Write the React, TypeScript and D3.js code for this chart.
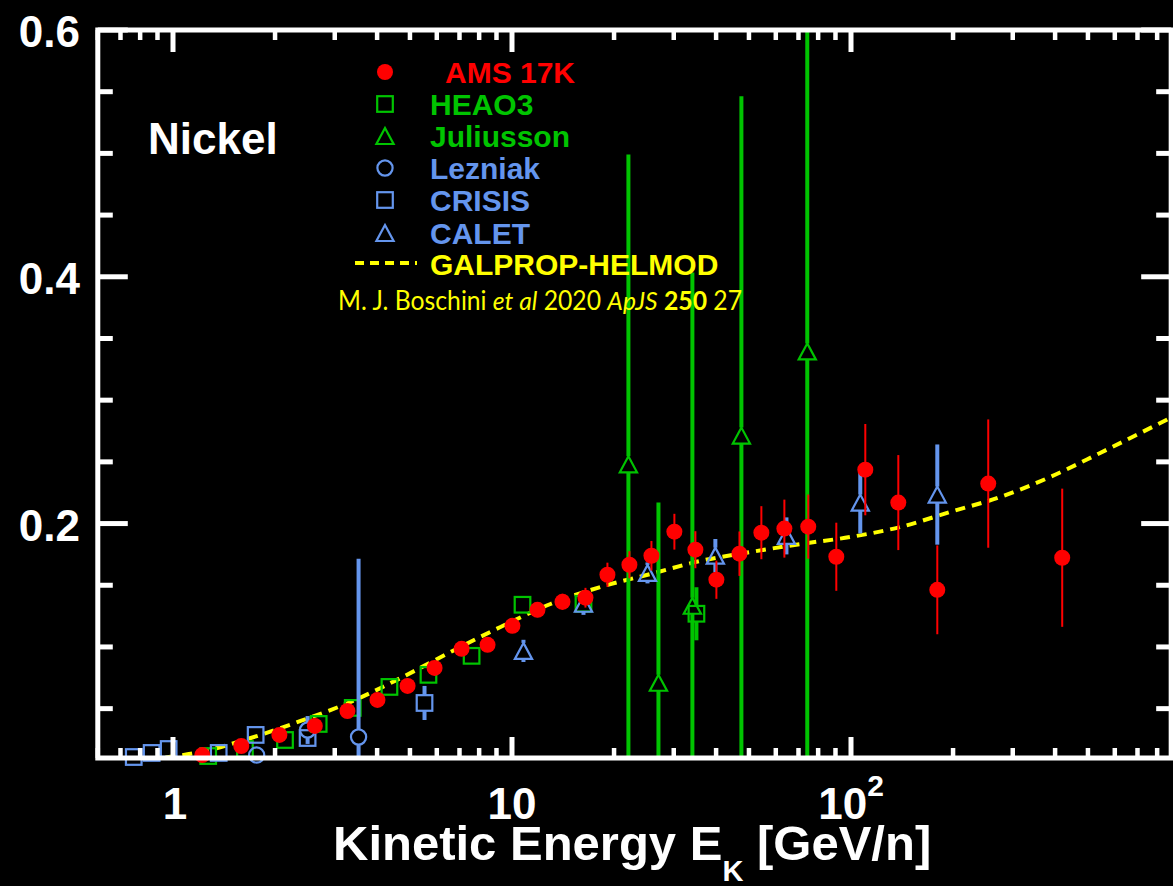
import React, { useEffect } from 'react';
import * as d3 from 'd3';

// ---------------- data ----------------
const amsE = [1.22, 1.59, 2.06, 2.62, 3.27, 4.01, 4.92, 5.91, 7.1, 8.47, 10.03, 11.89, 14.09, 16.47, 19.12, 22.2, 25.78, 30.13, 34.75, 40.08, 46.88, 54.4, 63.6, 74.8, 90.5, 110.2, 137.9, 179.7, 254, 419.8];
const amsF = [0.0124, 0.0197, 0.0287, 0.036, 0.0481, 0.0571, 0.0684, 0.083, 0.0985, 0.1017, 0.1171, 0.1301, 0.1366, 0.1399, 0.1585, 0.1666, 0.1739, 0.1934, 0.1788, 0.1545, 0.1756, 0.1926, 0.1959, 0.1975, 0.1731, 0.2437, 0.217, 0.1463, 0.2324, 0.1723];
const amsErr = [0.001, 0.0012, 0.0015, 0.0018, 0.002, 0.0025, 0.003, 0.0035, 0.004, 0.0045, 0.005, 0.006, 0.0065, 0.008, 0.0098, 0.011, 0.012, 0.0145, 0.015, 0.0155, 0.018, 0.0215, 0.0235, 0.026, 0.0276, 0.037, 0.0385, 0.036, 0.052, 0.056];

const heaoE = [1.27, 1.63, 2.14, 2.69, 3.39, 4.35, 5.67, 7.6, 10.74, 16.25, 35.0];
const heaoF = [0.0116, 0.0173, 0.0246, 0.0376, 0.0506, 0.0676, 0.0774, 0.0928, 0.1342, 0.135, 0.1269];
const heaoErr = [0.0008, 0.001, 0.0012, 0.0015, 0.0018, 0.002, 0.0025, 0.003, 0.004, 0.004, 0.0215];

const julE = [22.05, 27.04, 34.05, 47.5, 74.3];
const julF = [0.248, 0.071, 0.1334, 0.2713, 0.3395];
const julErr = [0.251, 0.146, 0.27, 0.275, 0.33];

const lezE = [1.765, 2.495, 3.527];
const lezF = [0.0124, 0.0327, 0.027];
const lezErr = [0.001, 0.0113, 0.1445];

const crisE = [0.766, 0.865, 0.971, 1.364, 1.753, 2.495, 5.52];
const crisF = [0.0108, 0.0141, 0.0173, 0.0141, 0.0287, 0.0262, 0.0546];
const crisErr = [0.0005, 0.0005, 0.0008, 0.0008, 0.001, 0.0065, 0.0138];

const caletE = [10.81, 16.25, 25.1, 39.8, 64.5, 106.5, 179.7];
const caletF = [0.0968, 0.135, 0.16, 0.174, 0.19, 0.217, 0.2235];
const caletErr = [0.009, 0.009, 0.0085, 0.0135, 0.015, 0.025, 0.0406];

const modelE = [0.95, 1.207, 1.695, 2.379, 3.341, 4.692, 6.588, 9.25, 12.99, 18.24, 25.61, 35.96, 50.49, 70.89, 99.5, 139.8, 196.2, 275.5, 386.8, 543.1, 873.7];
const modelF = [0.0105, 0.0149, 0.0262, 0.04, 0.0554, 0.0748, 0.0959, 0.1162, 0.1348, 0.1486, 0.1591, 0.1697, 0.1769, 0.1834, 0.1891, 0.1972, 0.2094, 0.2215, 0.2377, 0.2572, 0.2855];

const xMajorTicks = [1, 10, 100];
const yMajorTicks = [0.2, 0.4, 0.6];
const yMinorTicks = [0.05, 0.1, 0.15, 0.25, 0.3, 0.35, 0.45, 0.5, 0.55];
const legendLabels = ['AMS 17K', 'HEAO3', 'Juliusson', 'Lezniak', 'CRISIS', 'CALET', 'GALPROP-HELMOD'];

const RED = '#ff0000';
const GREEN = '#00c400';
const BLUE = '#6495ed';
const YELLOW = '#ffff00';
const FONT = '"Liberation Sans", Arial, Helvetica, sans-serif';

type Shape = 'circleFill' | 'square' | 'triangle' | 'circle';

function Marker({ cx, cy, shape, color }: { cx: number; cy: number; shape: Shape; color: string }) {
  if (shape === 'circleFill') return <circle cx={cx} cy={cy} r={8} fill={color} />;
  if (shape === 'circle') return <circle cx={cx} cy={cy} r={7.6} fill="none" stroke={color} strokeWidth={2.2} />;
  if (shape === 'square')
    return <rect x={cx - 7.8} y={cy - 7.8} width={15.6} height={15.6} fill="none" stroke={color} strokeWidth={2.2} />;
  const h = 8, w = 8.6;
  return (
    <path
      d={`M${cx},${cy - h}L${cx - w},${cy + h}L${cx + w},${cy + h}Z`}
      fill="none"
      stroke={color}
      strokeWidth={2.2}
      strokeLinejoin="miter"
    />
  );
}

export default function App() {
  useEffect(() => {
    document.body.style.margin = '0';
    document.body.style.background = '#000';
  }, []);

  const W = 1173, H = 886;
  const x0 = 173 + 339 * Math.log10(0.6);
  const x1 = 173 + 339 * Math.log10(880);
  const x = d3.scaleLog().domain([0.6, 880]).range([x0, x1]);
  const y = d3.scaleLinear().domain([0.01, 0.6]).range([758, 30]);
  const yTop = y(0.6), yBot = y(0.01);

  const xMinor: number[] = [];
  [0.1, 1, 10, 100].forEach((dec) => {
    for (let k = 2; k <= 9; k++) {
      const v = dec * k;
      if (v > 0.6 && v < 880) xMinor.push(v);
    }
  });

  const clampY = (v: number) => Math.max(0.01, Math.min(0.6, v));

  const series = [
    { E: heaoE, F: heaoF, err: heaoErr, shape: 'square' as Shape, color: GREEN, bw: 4 },
    { E: julE, F: julF, err: julErr, shape: 'triangle' as Shape, color: GREEN, bw: 4 },
    { E: lezE, F: lezF, err: lezErr, shape: 'circle' as Shape, color: BLUE, bw: 4 },
    { E: crisE, F: crisF, err: crisErr, shape: 'square' as Shape, color: BLUE, bw: 4 },
    { E: caletE, F: caletF, err: caletErr, shape: 'triangle' as Shape, color: BLUE, bw: 4 },
  ];

  const line = d3
    .line<[number, number]>()
    .x((d) => x(d[0]))
    .y((d) => y(d[1]))
    .curve(d3.curveMonotoneX);
  const modelPts: [number, number][] = modelE.map((e, i) => [e, modelF[i]]);

  const legendShapes: { shape: Shape; color: string }[] = [
    { shape: 'circleFill', color: RED },
    { shape: 'square', color: GREEN },
    { shape: 'triangle', color: GREEN },
    { shape: 'circle', color: BLUE },
    { shape: 'square', color: BLUE },
    { shape: 'triangle', color: BLUE },
  ];
  const legendColors = [RED, GREEN, GREEN, BLUE, BLUE, BLUE, YELLOW];
  const legendMarkerY = [72, 104, 136, 168, 200, 233];
  const legendTextY = [83, 115, 147, 179, 211, 244, 275];

  return (
    <svg
      width={W}
      height={H}
      viewBox={`0 0 ${W} ${H}`}
      style={{ display: 'block', position: 'absolute', left: 0, top: 0, background: '#000' }}
      fontFamily={FONT}
    >
      <defs>
        <clipPath id="plotClip">
          <rect x={x0} y={yTop} width={x1 - x0} height={yBot - yTop} />
        </clipPath>
      </defs>
      <rect x={0} y={0} width={W} height={H} fill="#000" />

      {/* model curve */}
      <path
        d={line(modelPts) || ''}
        fill="none"
        stroke={YELLOW}
        strokeWidth={4}
        strokeDasharray="10 7"
        clipPath="url(#plotClip)"
      />

      {/* open-marker series with split error bars */}
      {series.map((s, si) => (
        <g key={si}>
          {s.E.map((e, i) => {
            const cx = x(e), cy = y(s.F[i]);
            const hi = y(clampY(s.F[i] + s.err[i]));
            const lo = y(clampY(s.F[i] - s.err[i]));
            const gap = 8;
            return (
              <g key={i}>
                {hi < cy - gap && <line x1={cx} x2={cx} y1={hi} y2={cy - gap} stroke={s.color} strokeWidth={s.bw} />}
                {lo > cy + gap && <line x1={cx} x2={cx} y1={cy + gap} y2={lo} stroke={s.color} strokeWidth={s.bw} />}
                <Marker cx={cx} cy={cy} shape={s.shape} color={s.color} />
              </g>
            );
          })}
        </g>
      ))}

      {/* AMS */}
      <g>
        {amsE.map((e, i) => {
          const cx = x(e), cy = y(amsF[i]);
          return (
            <g key={i}>
              <line
                x1={cx}
                x2={cx}
                y1={y(clampY(amsF[i] + amsErr[i]))}
                y2={y(clampY(amsF[i] - amsErr[i]))}
                stroke={RED}
                strokeWidth={2}
              />
              <Marker cx={cx} cy={cy} shape="circleFill" color={RED} />
            </g>
          );
        })}
      </g>

      {/* frame */}
      <rect x={x0} y={yTop} width={x1 - x0} height={yBot - yTop} fill="none" stroke="#fff" strokeWidth={5} />

      {/* x ticks */}
      {xMajorTicks.map((v) => (
        <g key={'xM' + v}>
          <line x1={x(v)} x2={x(v)} y1={yBot} y2={yBot - 21} stroke="#fff" strokeWidth={5} />
          <line x1={x(v)} x2={x(v)} y1={yTop} y2={yTop + 22} stroke="#fff" strokeWidth={5} />
        </g>
      ))}
      {xMinor.map((v) => (
        <g key={'xm' + v}>
          <line x1={x(v)} x2={x(v)} y1={yBot} y2={yBot - 10} stroke="#fff" strokeWidth={4.5} />
          <line x1={x(v)} x2={x(v)} y1={yTop} y2={yTop + 10} stroke="#fff" strokeWidth={4.5} />
        </g>
      ))}
      {/* y ticks */}
      {yMajorTicks.map((v) => (
        <g key={'yM' + v}>
          <line x1={x0} x2={x0 + 30} y1={y(v)} y2={y(v)} stroke="#fff" strokeWidth={5} />
          <line x1={x1} x2={x1 - 30} y1={y(v)} y2={y(v)} stroke="#fff" strokeWidth={5} />
        </g>
      ))}
      {yMinorTicks.map((v) => (
        <g key={'ym' + v}>
          <line x1={x0} x2={x0 + 15} y1={y(v)} y2={y(v)} stroke="#fff" strokeWidth={5} />
          <line x1={x1} x2={x1 - 15} y1={y(v)} y2={y(v)} stroke="#fff" strokeWidth={5} />
        </g>
      ))}

      {/* y tick labels */}
      {yMajorTicks.map((v) => (
        <text key={'yl' + v} x={80} y={y(v) + 17} textAnchor="end" fill="#fff" fontSize={44} fontWeight="bold">
          {d3.format('.1f')(v)}
        </text>
      ))}
      {/* x tick labels */}
      <text x={x(1) + 2} y={819} textAnchor="middle" fill="#fff" fontSize={44} fontWeight="bold">1</text>
      <text x={x(10)} y={819} textAnchor="middle" fill="#fff" fontSize={44} fontWeight="bold">10</text>
      <text x={x(100)} y={819} textAnchor="middle" fill="#fff" fontSize={44} fontWeight="bold">
        10<tspan fontSize={30} dy={-23}>2</tspan>
      </text>

      {/* axis title */}
      <text x={333} y={860} fill="#fff" fontSize={49} fontWeight="bold">
        Kinetic Energy E<tspan fontSize={29} dy={21}>K</tspan>
        <tspan fontSize={49} dy={-21}> [GeV/n]</tspan>
      </text>

      {/* element label */}
      <text x={148} y={154} fill="#fff" fontSize={44} fontWeight="bold">Nickel</text>

      {/* legend */}
      {legendShapes.map((l, i) => (
        <Marker key={'lm' + i} cx={385} cy={legendMarkerY[i]} shape={l.shape} color={l.color} />
      ))}
      <line x1={355} x2={417} y1={263} y2={263} stroke={YELLOW} strokeWidth={4} strokeDasharray="9 6" />
      {legendLabels.map((t, i) => (
        <text
          key={'lt' + i}
          x={i === 0 ? 445 : 430}
          y={legendTextY[i]}
          fill={legendColors[i]}
          fontSize={30}
          fontWeight="bold"
        >
          {t}
        </text>
      ))}
      <text
        x={338}
        y={310}
        fill={YELLOW}
        fontSize={26}
        fontFamily='Lato, "Open Sans", sans-serif'
        textLength={404}
        lengthAdjust="spacingAndGlyphs"
      >
        M. J. Boschini <tspan fontStyle="italic">et al</tspan> 2020 <tspan fontStyle="italic">ApJS</tspan>{' '}
        <tspan fontWeight="bold">250</tspan> 27
      </text>
    </svg>
  );
}
